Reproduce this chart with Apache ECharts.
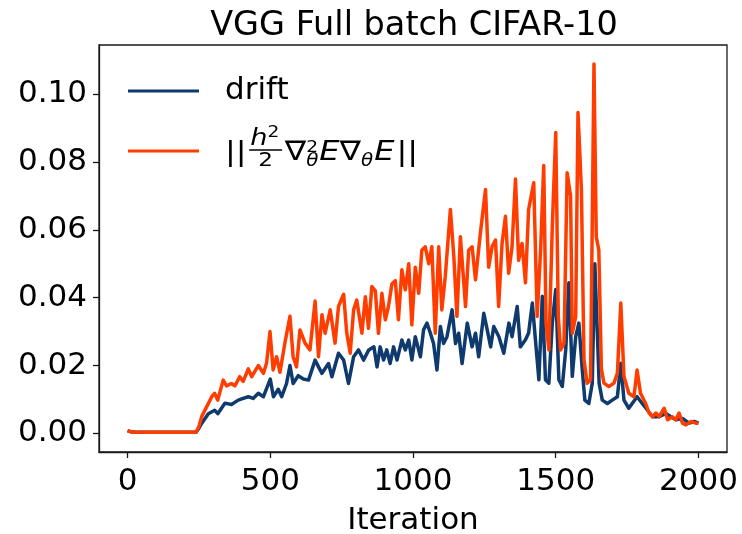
<!DOCTYPE html>
<html>
<head>
<meta charset="utf-8">
<script src="https://cdn.jsdelivr.net/npm/echarts@6/dist/echarts.min.js"></script>
<style>
html,body{margin:0;padding:0;background:#fff;}
#chart{width:742px;height:534px;}
</style>
</head>
<body>
<div id="chart"></div>
<script>
// ---------- data ----------
const titleText = 'VGG Full batch CIFAR-10';
const xAxisName = 'Iteration';
const xTicks = [0, 500, 1000, 1500, 2000];
const yTicks = [0, 0.02, 0.04, 0.06, 0.08, 0.10];
const seriesNames = ['drift', '||h²/2 ∇²θ E ∇θ E||'];

const driftIter = [0,10,30,240,250,260,283,305,316,341,364,388,405,423,440,458,476,500,511,528,540,557,569,580,598,616,634,657,669,681,704,716,739,757,774,792,809,827,845,863,874,885,897,908,920,932,944,961,973,985,996,1008,1026,1037,1049,1061,1072,1084,1096,1107,1119,1137,1149,1160,1172,1190,1207,1219,1230,1248,1260,1272,1283,1301,1318,1336,1347,1365,1376,1394,1405,1418,1429,1441,1453,1464,1476,1488,1500,1511,1523,1535,1546,1558,1570,1581,1593,1602,1616,1628,1637,1645,1652,1663,1681,1698,1716,1728,1739,1756,1768,1785,1803,1821,1839,1862,1886,1903,1921,1944,1967,1985,2000];
const driftVal = [0.0008,0.0005,0.0003,0.0003,0.0015,0.003,0.0058,0.0068,0.0058,0.0089,0.0085,0.0098,0.0103,0.0108,0.0103,0.0118,0.0108,0.016,0.0108,0.013,0.0108,0.0147,0.020,0.0147,0.017,0.016,0.0157,0.0216,0.0196,0.0177,0.0206,0.0167,0.0236,0.0216,0.0147,0.0226,0.0246,0.0216,0.0246,0.0255,0.0196,0.0255,0.0216,0.0246,0.0206,0.0255,0.0216,0.0275,0.0246,0.0275,0.0216,0.0285,0.0226,0.0305,0.0325,0.0295,0.0265,0.0187,0.0315,0.0265,0.0285,0.0364,0.0265,0.0295,0.0206,0.0325,0.0255,0.0295,0.0226,0.0354,0.0305,0.0255,0.0315,0.0285,0.0236,0.0325,0.0285,0.0374,0.0255,0.0276,0.0296,0.0384,0.0275,0.0158,0.0404,0.0158,0.0148,0.0325,0.0424,0.0158,0.0138,0.0246,0.0444,0.0168,0.0285,0.0325,0.0187,0.0098,0.0088,0.0148,0.050,0.0315,0.0148,0.0098,0.0088,0.0098,0.0108,0.0207,0.0098,0.0074,0.0088,0.0108,0.0088,0.0069,0.0049,0.0049,0.0059,0.0049,0.004,0.0044,0.003,0.0035,0.003];

const hessIter = [0,10,30,240,250,260,277,295,305,316,335,347,364,376,393,405,423,435,458,476,487,499,510,522,534,552,569,580,592,604,622,639,657,669,681,692,710,727,739,757,768,780,792,803,821,833,844,856,868,879,891,903,914,926,938,949,961,973,985,996,1008,1020,1031,1043,1055,1066,1078,1090,1101,1113,1131,1143,1154,1166,1184,1195,1207,1219,1236,1254,1265,1277,1289,1300,1312,1324,1335,1347,1359,1370,1382,1394,1405,1423,1435,1447,1458,1466,1476,1488,1500,1509,1517,1529,1540,1552,1558,1570,1578,1590,1599,1610,1622,1634,1642,1651,1660,1669,1686,1704,1716,1728,1739,1756,1774,1785,1797,1815,1827,1839,1851,1862,1880,1892,1909,1921,1932,1944,1956,1974,1991,2000];
const hessVal = [0.0008,0.0005,0.0003,0.0003,0.002,0.005,0.0078,0.0108,0.0118,0.0098,0.0157,0.014,0.0147,0.014,0.0167,0.0153,0.019,0.0167,0.020,0.0177,0.0207,0.030,0.0187,0.0226,0.018,0.027,0.0345,0.0226,0.0196,0.0305,0.0266,0.0246,0.039,0.0226,0.035,0.0295,0.0364,0.0266,0.0374,0.041,0.0295,0.0236,0.0364,0.0393,0.0295,0.0403,0.031,0.0433,0.042,0.0295,0.0413,0.0335,0.0374,0.044,0.045,0.0335,0.0482,0.0423,0.050,0.032,0.049,0.0413,0.054,0.055,0.050,0.055,0.0295,0.055,0.0364,0.0462,0.066,0.0522,0.0345,0.058,0.0374,0.054,0.055,0.0453,0.059,0.0719,0.049,0.055,0.057,0.0374,0.056,0.064,0.0472,0.055,0.075,0.051,0.056,0.0444,0.066,0.0739,0.0345,0.054,0.079,0.0325,0.0246,0.061,0.0887,0.0345,0.0246,0.0266,0.0768,0.070,0.0295,0.0345,0.0946,0.0718,0.0217,0.0148,0.0158,0.1089,0.058,0.054,0.019,0.0148,0.0138,0.0148,0.0177,0.0384,0.0168,0.0118,0.0108,0.0187,0.0118,0.0088,0.006,0.0049,0.006,0.0049,0.0074,0.004,0.0049,0.004,0.006,0.003,0.0025,0.0035,0.003,0.003];

// ---------- chart ----------
const FONT = 'DejaVu Sans';
const BLUE = '#0e3a6e';
const RED = '#ff3d00';
const zip = (xs, ys) => xs.map((x, i) => [x, ys[i]]);

// math legend label, built from text pieces
const measureCtx = document.createElement('canvas').getContext('2d');
function tw(t, fs, it) {
  measureCtx.font = (it ? 'italic ' : '') + fs + 'px "' + FONT + '"';
  return measureCtx.measureText(t).width;
}
function mathLabel(x0, targetW, B, F) {
  const kids = [];
  const K = 0.34;
  function put(t, fs, it, x, base, align) {
    kids.push({type: 'text', x: x, y: base - K * fs, style: {
      text: t, fontSize: fs, fontFamily: FONT, fontStyle: it ? 'italic' : 'normal',
      fill: '#000', align: align || 'left', verticalAlign: 'middle'}});
  }
  let c = 0;
  put('||', F, false, c, B); c += tw('||', F, false) + 0.08 * F;
  // fraction h^2 / 2
  const hF = 0.85 * F, sF = 0.58 * F, dF = 0.72 * F, tF = 0.62 * F;
  const hw = tw('h', hF, true), s2 = tw('2', sF, false);
  const barW = hw + s2 + 0.12 * F;
  put('h', hF, true, c + 0.03 * F, B - 0.56 * F);
  put('2', sF, false, c + 0.03 * F + hw, B - 0.88 * F);
  kids.push({type: 'rect', shape: {x: c, y: B - 0.47 * F, width: barW, height: 1.5}, style: {fill: '#000'}});
  put('2', dF, false, c + barW / 2, B + 0.2 * F, 'center');
  c += barW + 0.08 * F;
  // nabla^2_theta
  put('∇', F, false, c, B); c += tw('∇', F, false);
  put('2', sF, false, c, B - 0.33 * F);
  put('θ', tF, true, c, B + 0.2 * F);
  c += Math.max(tw('2', sF, false), tw('θ', tF, true)) + 0.03 * F;
  put('E', F, true, c, B); c += tw('E', F, true);
  put('∇', F, false, c, B); c += tw('∇', F, false);
  put('θ', tF, true, c, B + 0.2 * F); c += tw('θ', tF, true) + 0.03 * F;
  put('E', F, true, c, B); c += tw('E', F, true) + 0.06 * F;
  put('||', F, false, c, B); c += tw('||', F, false);
  return {type: 'group', x: x0, y: 0, scaleX: targetW / c, children: kids};
}

const chart = echarts.init(document.getElementById('chart'), null, {renderer: 'canvas'});
const axisCol = '#1a1a1a';
chart.setOption({
  animation: false,
  backgroundColor: '#fff',
  title: {
    text: titleText, left: 414, top: 10, textAlign: 'center', padding: 0,
    textStyle: {fontFamily: FONT, fontSize: 33.5, fontWeight: 'normal', color: '#000', lineHeight: 33}
  },
  grid: {left: 99, top: 45, width: 628, height: 407, show: true, borderColor: axisCol, borderWidth: 1.3,
         containLabel: false, outerBoundsMode: 'none'},
  legend: {
    orient: 'vertical', left: 128, top: 73, padding: 0, itemGap: 24,
    itemWidth: 71, itemHeight: 3, icon: 'rect', selectedMode: false,
    data: seriesNames,
    formatter: n => (n === 'drift' ? 'drift' : ' '),
    textStyle: {fontFamily: FONT, fontSize: 31, color: '#000', lineHeight: 36, padding: [0, 0, 0, 21]}
  },
  xAxis: {
    type: 'value', min: -100, max: 2100,
    name: xAxisName, nameLocation: 'middle', nameGap: 53,
    nameTextStyle: {fontFamily: FONT, fontSize: 31, color: '#000', lineHeight: 31},
    axisLine: {show: true, onZero: false, lineStyle: {color: axisCol, width: 1.3}},
    axisTick: {show: true, inside: false, length: 6, customValues: xTicks, lineStyle: {color: axisCol, width: 1.3}},
    axisLabel: {customValues: xTicks, margin: 14, fontFamily: FONT, fontSize: 31, color: '#000', lineHeight: 31,
      formatter: v => String(v)},
    splitLine: {show: false}
  },
  yAxis: {
    type: 'value', min: -0.0055, max: 0.1145,
    axisLine: {show: true, onZero: false, lineStyle: {color: axisCol, width: 1.3}},
    axisTick: {show: true, inside: false, length: 6, customValues: yTicks, lineStyle: {color: axisCol, width: 1.3}},
    axisLabel: {customValues: yTicks, margin: 12, fontFamily: FONT, fontSize: 31, color: '#000',
      formatter: v => v.toFixed(2)},
    splitLine: {show: false}
  },
  series: [
    {name: seriesNames[0], type: 'line', data: zip(driftIter, driftVal), showSymbol: false, symbol: 'none',
     lineStyle: {color: BLUE, width: 3.5, join: 'round'}, itemStyle: {color: BLUE}},
    {name: seriesNames[1], type: 'line', data: zip(hessIter, hessVal), showSymbol: false, symbol: 'none',
     lineStyle: {color: RED, width: 3.5, join: 'round'}, itemStyle: {color: RED}}
  ],
  graphic: [mathLabel(225, 193, 162, 27)]
});
</script>
</body>
</html>
